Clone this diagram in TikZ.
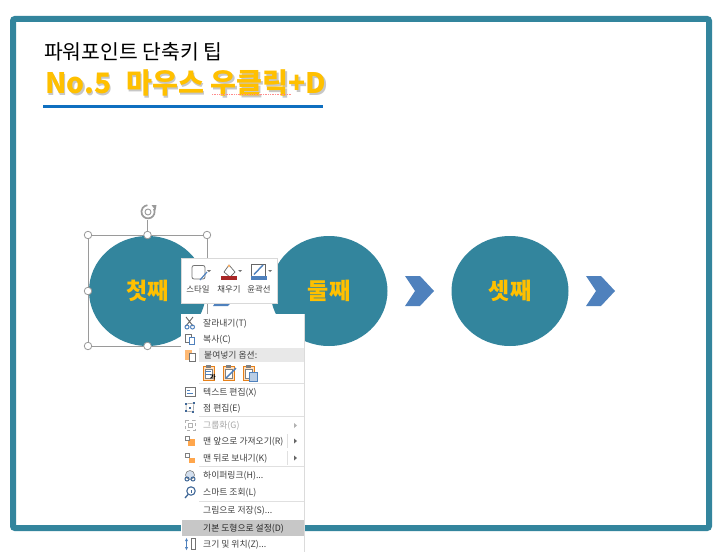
\documentclass[tikz,border=0pt]{standalone}
\usepackage{fontspec}
\setmainfont{Noto Sans CJK KR}
\definecolor{teal1}{HTML}{33859D}
\definecolor{gold1}{HTML}{FFC000}
\definecolor{blue1}{HTML}{0F6FC0}
\definecolor{chev}{HTML}{4F81BD}
\definecolor{menutxt}{HTML}{404040}
\definecolor{handle}{HTML}{9A9A9A}
\tikzset{
 x=1pt,y=-1pt,
 disc/.style={ellipse,draw=none,fill=teal1,minimum width=117pt,minimum height=110pt,inner sep=0pt,text=gold1,font=\fontsize{23}{24}\selectfont\bfseries},
 handlept/.style={circle,draw=handle,fill=white,line width=.8pt,minimum size=7.5pt,inner sep=0pt},
 chevronshape/.style={fill=chev,draw=none},
 item/.style={anchor=west,inner sep=0pt,yshift=-.8pt,text=menutxt,font=\fontsize{8.8}{9}\selectfont},
 itemoff/.style={item,text=black!35},
 tool/.style={anchor=center,inner sep=0pt,text=menutxt,font=\fontsize{8.4}{9}\selectfont},
 sep/.style={draw=black!12,line width=.7pt},
 arrowmark/.style={fill=black!55,draw=none},
}
\usetikzlibrary{shapes.geometric,shadows}
\begin{document}
\begin{tikzpicture}
\useasboundingbox (0,0) rectangle (727,551);
\fill[white] (0,0) rectangle (727,551);
% frame
\draw[teal1,line width=6pt,rounded corners=2pt] (13,19) rectangle (709,528);
% title
\node[anchor=west,inner sep=0pt,font=\fontsize{20.4}{21}\selectfont] (sub) at (44,52) {파워포인트 단축키 팁};
\node[anchor=west,inner sep=0pt,text=black!22,font=\fontsize{28.2}{29}\selectfont\bfseries] (titles) at (46.5,84.5) {No.5\hspace{15pt}마우스 우클릭+D};
\node[anchor=west,inner sep=0pt,text=gold1,font=\fontsize{28.2}{29}\selectfont\bfseries] (title) at (45,83) {No.5\hspace{15pt}마우스 우클릭+D};
\draw[red!45,line width=.7pt,densely dotted] (212,94.5) -- (291,94.5);
\draw[blue1,line width=3pt] (43,106.5) -- (323,106.5);
% discs
\node[disc] (d1) at (147.5,291) {첫째};
\node[disc] (d2) at (329,291) {둘째};
\node[disc] (d3) at (510,291) {셋째};
% chevrons
\foreach \xx in {213,405,586}{
 \fill[chevronshape] (\xx,276) -- (\xx+15,276) -- (\xx+29,291) -- (\xx+15,306) -- (\xx,306) -- (\xx+10,291) -- cycle;
}
% selection
\draw[handle,line width=.8pt] (88,235) rectangle (207,346);
\draw[handle,line width=.8pt] (147.5,235) -- (147.5,220);
\foreach \n/\px/\py in {h1/88/235,h2/147.5/235,h3/207/235,h4/88/291,h6/88/346,h7/147.5/346}{
 \node[handlept] (\n) at (\px,\py) {};
}
\draw[handle,line width=1.7pt] (154,209) arc (-25:265:6.6);
\fill[handle] (151.5,205) -- (156.5,205) -- (155.5,210.5) -- cycle;
\draw[handle,line width=.9pt] (148,212) circle (3);
% mini toolbar
\node[rectangle,draw=black!15,fill=white,minimum width=96pt,minimum height=45pt,inner sep=0pt,drop shadow={shadow xshift=.6pt,shadow yshift=-.6pt,opacity=.2}] (bar) at (229,280.5) {};
\draw[black!55,fill=white,line width=.8pt,rounded corners=2pt] (192,265.5) rectangle (205,279);
\draw[chev,line width=1.2pt] (200,280) -- (207,272);
\fill[arrowmark] (207,270) -- (211,270) -- (209,272) -- cycle;
\draw[black!60,fill=white,line width=.7pt] (224,272) -- (229,265) -- (235,272) -- (230,277) -- cycle;
\fill[orange!60] (229,266) circle (1.4);
\fill[red!60!black!85] (221,275.5) rectangle (237,279.5);
\fill[arrowmark] (238,270) -- (242,270) -- (240,272) -- cycle;
\draw[black!60,fill=white,line width=.7pt] (251,264.5) rectangle (265,276);
\draw[chev,line width=1.4pt] (254,274.5) -- (263,265);
\fill[chev] (251,276) rectangle (267,279.5);
\fill[arrowmark] (268,270) -- (272,270) -- (270,272) -- cycle;
\node[tool] (t1) at (198,289) {스타일};
\node[tool] (t2) at (229,289) {채우기};
\node[tool] (t3) at (259,289) {윤곽선};
% context menu
\begin{scope}
\clip (0,0) rectangle (727,551);
\fill[black!14] (180.5,313.5) rectangle (304.5,552);
\fill[white] (181.3,314.3) rectangle (303.8,552);
\fill[black!9] (199,348) rectangle (304,362);
\fill[black!22] (182,519.5) rectangle (304,536);
\draw[sep] (199,383) -- (304,383);
\draw[sep] (199,416.5) -- (304,416.5);
\draw[sep] (199,466.5) -- (304,466.5);
\draw[sep] (199,501) -- (304,501);
\draw[sep] (287,434) -- (287,448);
\draw[sep] (287,451) -- (287,465);
\node[item] (m1) at (203,323) {잘라내기(T)};
\node[item] (m2) at (203,339) {복사(C)};
\node[item] (m3) at (204,354.5) {붙여넣기 옵션:};
\node[item] (m4) at (203,392) {텍스트 편집(X)};
\node[item] (m5) at (203,408) {점 편집(E)};
\node[itemoff] (m6) at (203,425) {그룹화(G)};
\node[item] (m7) at (203,441) {맨 앞으로 가져오기(R)};
\node[item] (m8) at (203,458) {맨 뒤로 보내기(K)};
\node[item] (m9) at (203,475) {하이퍼링크(H)...};
\node[item] (m10) at (203,492) {스마트 조회(L)};
\node[item] (m11) at (203,510) {그림으로 저장(S)...};
\node[item,text=black!85] (m12) at (203,527.5) {기본 도형으로 설정(D)};
\node[item] (m13) at (203,544) {크기 및 위치(Z)...};
% submenu arrows
\fill[black!30] (294,423) -- (297,425.5) -- (294,428) -- cycle;
\fill[black!60] (294,438.5) -- (297,441) -- (294,443.5) -- cycle;
\fill[black!60] (294,455.5) -- (297,458) -- (294,460.5) -- cycle;
% icons: cut
\draw[black!60,line width=.9pt] (186,317) -- (193,326) (193,317) -- (186,326);
\draw[chev,line width=1pt] (187,327) circle (2) (192.5,327) circle (2);
% copy
\draw[black!55,fill=white,line width=.6pt] (185.5,334) rectangle (191,342);
\draw[chev,fill=white,line width=.6pt] (189,337) rectangle (194,344);
% paste small
\fill[orange!55] (185,350) rectangle (192,360);
\draw[black!55,fill=white,line width=.6pt] (189,353) rectangle (195,361);
% paste options
\foreach \xx in {203,223,243}{
 \draw[orange!60!brown,fill=orange!25,line width=.9pt] (\xx,366.5) rectangle (\xx+11,380);
 \fill[black!50] (\xx+3,364.5) rectangle (\xx+8,367.5);
 \draw[black!50,fill=white,line width=.5pt] (\xx+2,369) rectangle (\xx+9,378);
}
\draw[chev,line width=.7pt] (205,371) -- (211,371) (205,374) -- (211,374);
\node[inner sep=0pt,font=\fontsize{6}{6}\selectfont\bfseries] (pg) at (213,377) {가};
\draw[chev,line width=1.4pt] (226,378) -- (236,368);
\draw[chev,fill=chev!40,line width=.6pt] (249,372) rectangle (257,381);
% text edit
\draw[black!55,line width=.6pt] (185,387.5) rectangle (195,396.5);
\draw[chev,line width=.7pt] (187,390) -- (190,390) (187,393) -- (193,393);
% point edit
\draw[black!45,line width=.5pt] (186,404) -- (194,403) -- (193,412) -- (186,411) -- cycle;
\foreach \a/\b in {186/404,194/403,193/412,186/411,190/407.5}{\fill[chev!80!black] (\a-1,\b-1) rectangle (\a+1,\b+1);}
% group
\draw[black!30,dashed,line width=.6pt] (185,420) rectangle (195,430);
\draw[black!30,line width=.6pt] (188,423) rectangle (192,427);
% front/back
\fill[orange!70] (188,439) rectangle (195,446);
\draw[black!50,fill=white,line width=.6pt] (185,436) rectangle (189.5,440.5);
\draw[black!50,fill=white,line width=.6pt] (185,453) rectangle (189.5,457.5);
\fill[orange!70] (189,458) rectangle (195,463);
% hyperlink
\draw[black!50,fill=chev!25,line width=.6pt] (190,475) circle (4.5);
\draw[chev!80!black,line width=1pt] (187,479) circle (2) (193,479) circle (2);
% smart lookup
\draw[chev!80!black,line width=1.1pt] (191,491) circle (4.2);
\draw[chev!80!black,line width=1.3pt] (188,494.5) -- (185,498);
\fill[chev!80!black] (190.5,489.5) rectangle (191.5,492.5);
% size
\draw[black!55,line width=.6pt] (191,538.5) rectangle (195,549);
\draw[chev,line width=1pt] (186.5,539) -- (186.5,549);
\fill[chev] (185,541) -- (186.5,538) -- (188,541) -- cycle (185,547) -- (186.5,550) -- (188,547) -- cycle;
\end{scope}
\end{tikzpicture}
\end{document}
